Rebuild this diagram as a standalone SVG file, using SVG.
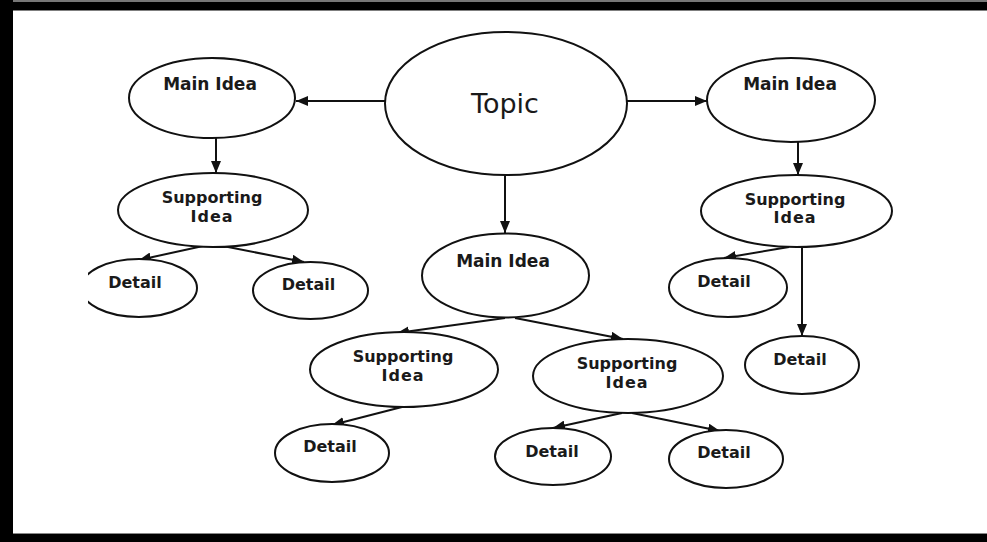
<svg xmlns="http://www.w3.org/2000/svg" width="987" height="542" viewBox="0 0 987 542">
  <style>
    .node { fill: #fff; stroke: #111; stroke-width: 2; }
    .lbl { font-family: "DejaVu Sans", Verdana, sans-serif; font-weight: bold; font-size: 16px; fill: #1a1a1a; text-anchor: middle; }
    .main { font-size: 17px; }
    .topic { font-family: "DejaVu Sans", Verdana, sans-serif; font-size: 27px; fill: #1a1a1a; text-anchor: middle; }
    .edge { stroke: #111; stroke-width: 2; fill: none; marker-end: url(#arrow); }
  </style>
  <defs>
    <marker id="arrow" markerUnits="userSpaceOnUse" markerWidth="12" markerHeight="10" viewBox="0 0 12 10" refX="12" refY="5" orient="auto">
      <path d="M0,0 L12,5 L0,10 Z" fill="#111"/>
    </marker>
    <clipPath id="leftclip">
      <rect x="88" y="0" width="900" height="542"/>
    </clipPath>
  </defs>

  <rect x="0" y="0" width="987" height="542" fill="#fff"/>
  <g id="frame">
    <rect x="0" y="0" width="987" height="10.5" fill="#000"/>
    <rect x="0" y="0" width="987" height="2" fill="#777"/>
    <rect x="0" y="534" width="987" height="8" fill="#000"/>
    <rect x="0" y="533" width="987" height="1" fill="#888"/>
    <rect x="0" y="0" width="13" height="542" fill="#000"/>
  </g>

  <g id="connectors">
    <line class="edge" x1="385" y1="101" x2="296" y2="101"/>
    <line class="edge" x1="627" y1="101" x2="707" y2="101"/>
    <line class="edge" x1="505" y1="175" x2="505" y2="233"/>
    <line class="edge" x1="216" y1="138" x2="216" y2="173"/>
    <line class="edge" x1="203" y1="246" x2="139" y2="260"/>
    <line class="edge" x1="223" y1="246" x2="304" y2="262"/>
    <line class="edge" x1="798" y1="142" x2="798" y2="175"/>
    <line class="edge" x1="789" y1="247" x2="724" y2="258"/>
    <line class="edge" x1="802" y1="247" x2="802" y2="336"/>
    <line class="edge" x1="505" y1="318" x2="397" y2="333"/>
    <line class="edge" x1="515" y1="318" x2="623" y2="339"/>
    <line class="edge" x1="402" y1="407" x2="332" y2="425"/>
    <line class="edge" x1="622" y1="413" x2="553" y2="428"/>
    <line class="edge" x1="632" y1="413" x2="720" y2="431"/>
  </g>

  <g id="topic">
    <ellipse class="node" cx="506" cy="103.5" rx="121" ry="71.5"/>
    <text class="topic" x="505" y="113">Topic</text>
  </g>

  <g id="main-left">
    <ellipse class="node" cx="212" cy="98" rx="83" ry="40"/>
    <text class="lbl main" x="210" y="90">Main Idea</text>
  </g>
  <g id="main-right">
    <ellipse class="node" cx="791" cy="100" rx="84" ry="42"/>
    <text class="lbl main" x="790" y="90">Main Idea</text>
  </g>
  <g id="main-center">
    <ellipse class="node" cx="505.5" cy="275.5" rx="83.5" ry="42"/>
    <text class="lbl main" x="503" y="267">Main Idea</text>
  </g>

  <g id="support-left">
    <ellipse class="node" cx="213" cy="210" rx="95" ry="37"/>
    <text class="lbl" x="212" y="203">Supporting</text>
    <text class="lbl" x="212" y="222" letter-spacing="1">Idea</text>
  </g>
  <g id="support-right">
    <ellipse class="node" cx="796.5" cy="211" rx="95.5" ry="36"/>
    <text class="lbl" x="795" y="205">Supporting</text>
    <text class="lbl" x="795" y="223" letter-spacing="1">Idea</text>
  </g>
  <g id="support-center-left">
    <ellipse class="node" cx="404" cy="369.5" rx="94" ry="37.5"/>
    <text class="lbl" x="403" y="362">Supporting</text>
    <text class="lbl" x="403" y="381" letter-spacing="1">Idea</text>
  </g>
  <g id="support-center-right">
    <ellipse class="node" cx="628" cy="376" rx="95" ry="37"/>
    <text class="lbl" x="627" y="369">Supporting</text>
    <text class="lbl" x="627" y="388" letter-spacing="1">Idea</text>
  </g>

  <g id="detail-left-1">
    <ellipse class="node" cx="139" cy="288" rx="58" ry="29" clip-path="url(#leftclip)"/>
    <text class="lbl" x="135" y="288">Detail</text>
  </g>
  <g id="detail-left-2">
    <ellipse class="node" cx="310.5" cy="290.5" rx="57.5" ry="28.5"/>
    <text class="lbl" x="308.5" y="290">Detail</text>
  </g>
  <g id="detail-right-1">
    <ellipse class="node" cx="728" cy="287.5" rx="59" ry="29.5"/>
    <text class="lbl" x="724" y="287">Detail</text>
  </g>
  <g id="detail-right-2">
    <ellipse class="node" cx="802" cy="365" rx="57" ry="29"/>
    <text class="lbl" x="800" y="365">Detail</text>
  </g>
  <g id="detail-center-left">
    <ellipse class="node" cx="332" cy="453" rx="57" ry="29"/>
    <text class="lbl" x="330" y="452">Detail</text>
  </g>
  <g id="detail-center-right-1">
    <ellipse class="node" cx="553" cy="456.5" rx="58" ry="28.5"/>
    <text class="lbl" x="552" y="457">Detail</text>
  </g>
  <g id="detail-center-right-2">
    <ellipse class="node" cx="726" cy="459" rx="57" ry="29"/>
    <text class="lbl" x="724" y="458">Detail</text>
  </g>
</svg>
